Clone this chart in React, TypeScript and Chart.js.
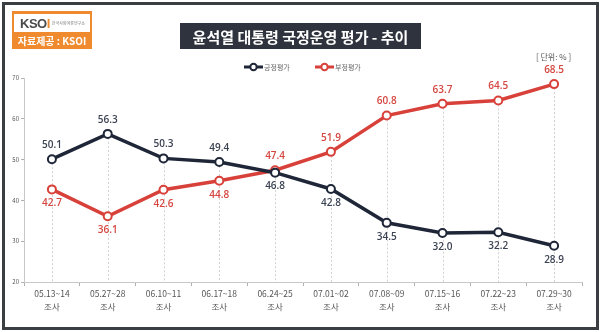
import React, { useEffect, useRef } from "react";
import { Chart, registerables } from "chart.js";

Chart.register(...registerables);

const categories = ["05.13~14", "05.27~28", "06.10~11", "06.17~18", "06.24~25", "07.01~02", "07.08~09", "07.15~16", "07.22~23", "07.29~30"];
const subLabel = "조사";
const positive = [50.1, 56.3, 50.3, 49.4, 46.8, 42.8, 34.5, 32.0, 32.2, 28.9];
const negative = [42.7, 36.1, 42.6, 44.8, 47.4, 51.9, 60.8, 63.7, 64.5, 68.5];
const yTicks = [20, 30, 40, 50, 60, 70];
const seriesNames = ["긍정평가", "부정평가"];
const title = "윤석열 대통령 국정운영 평가 - 추이";
const unitText = "[ 단위: % ]";
const sourceText = "자료제공 : KSOI";
const orgText = "한국사회여론연구소";

const NAVY = "#1e2638";
const RED = "#d8403a";
const NAVY_LABEL = "#3b4252";
const RED_LABEL = "#d4463f";
const FONT = "'Noto Sans CJK KR', 'Noto Sans', sans-serif";

const dropLines = {
  id: "dropLines",
  beforeDatasetsDraw(chart: any) {
    const { ctx, chartArea } = chart;
    const m0 = chart.getDatasetMeta(0);
    const m1 = chart.getDatasetMeta(1);
    ctx.save();
    ctx.strokeStyle = "#d0d0d0";
    ctx.lineWidth = 1;
    ctx.setLineDash([2, 2]);
    m0.data.forEach((p: any, i: number) => {
      const q = m1.data[i];
      const top = Math.min(p.y, q.y);
      ctx.beginPath();
      ctx.moveTo(Math.round(p.x) + 0.5, top);
      ctx.lineTo(Math.round(p.x) + 0.5, chartArea.bottom);
      ctx.stroke();
    });
    ctx.restore();
  },
};

const valueLabels = {
  id: "valueLabels",
  afterDatasetsDraw(chart: any) {
    const { ctx } = chart;
    const sets = chart.data.datasets;
    ctx.save();
    ctx.font = `600 10px 'Open Sans', ${FONT}`;
    ctx.textAlign = "center";
    ctx.textBaseline = "middle";
    sets.forEach((ds: any, di: number) => {
      const other = sets[1 - di].data;
      const meta = chart.getDatasetMeta(di);
      ctx.fillStyle = di === 0 ? NAVY_LABEL : RED_LABEL;
      meta.data.forEach((p: any, i: number) => {
        const v = ds.data[i];
        const above = v > other[i];
        const y = above ? p.y - 14 : p.y + 14;
        ctx.fillText(v.toFixed(1), p.x, y);
      });
    });
    ctx.restore();
  },
};

function LegendItem({ color, label, left }: { color: string; label: string; left: number }) {
  return (
    <div style={{ position: "absolute", left, top: 61, height: 12, display: "flex", alignItems: "center" }}>
      <svg width={19} height={10} style={{ display: "block" }}>
        <line x1={0} y1={5} x2={19} y2={5} stroke={color} strokeWidth={3} />
        <circle cx={9.5} cy={5} r={3.2} fill="#fff" stroke={color} strokeWidth={2} />
      </svg>
      <span style={{ fontFamily: FONT, fontSize: 7, color: "#666", marginLeft: 1 }}>{label}</span>
    </div>
  );
}

export default function App() {
  const canvasRef = useRef<HTMLCanvasElement | null>(null);

  useEffect(() => {
    const canvas = canvasRef.current;
    if (!canvas) return;
    const chart = new Chart(canvas, {
      type: "line",
      data: {
        labels: categories.map((c) => [c, subLabel]),
        datasets: [
          {
            label: seriesNames[0],
            data: positive,
            borderColor: NAVY,
            backgroundColor: "#ffffff",
            borderWidth: 3.5,
            pointRadius: 4,
            pointBorderWidth: 2,
            pointBackgroundColor: "#ffffff",
            pointBorderColor: NAVY,
            tension: 0,
          },
          {
            label: seriesNames[1],
            data: negative,
            borderColor: RED,
            backgroundColor: "#ffffff",
            borderWidth: 3.5,
            pointRadius: 4,
            pointBorderWidth: 2,
            pointBackgroundColor: "#ffffff",
            pointBorderColor: RED,
            tension: 0,
          },
        ],
      },
      options: {
        animation: false,
        responsive: false,
        maintainAspectRatio: false,
        layout: { padding: { left: 0, right: 18, top: 78, bottom: 0 } },
        plugins: {
          legend: { display: false },
          tooltip: { enabled: false },
          title: { display: false },
        },
        scales: {
          x: {
            type: "category",
            offset: true,
            grid: {
              offset: true,
              drawOnChartArea: false,
              drawTicks: true,
              tickLength: 4,
              color: "#b0b0b0",
            },
            border: { color: "#c8c8c8", width: 1 },
            ticks: {
              color: "#555",
              font: { family: FONT, size: 8.5, lineHeight: 1.45 },
              padding: 2,
              maxRotation: 0,
              autoSkip: false,
            },
            afterFit(scale: any) {
              scale.height = 50;
            },
          },
          y: {
            min: 20,
            max: 70,
            afterBuildTicks(scale: any) {
              scale.ticks = yTicks.map((v) => ({ value: v }));
            },
            grid: {
              drawOnChartArea: false,
              drawTicks: true,
              tickLength: 3,
              color: "#b0b0b0",
            },
            border: { color: "#c8c8c8", width: 1 },
            ticks: {
              color: "#555",
              font: { family: FONT, size: 6 },
              padding: 2,
            },
            afterFit(scale: any) {
              scale.width = 24;
            },
          },
        },
      },
      plugins: [dropLines, valueLabels],
    } as any);
    return () => chart.destroy();
  }, []);

  return (
    <div style={{ position: "absolute", left: 0, top: 0, width: 600, height: 332, background: "#fff", overflow: "hidden" }}>
      <canvas ref={canvasRef} width={600} height={332} style={{ position: "absolute", left: 0, top: 0, width: 600, height: 332 }} />
      <div style={{ position: "absolute", left: 2, top: 2, width: 591, height: 322, border: "3px solid #3a3d42", pointerEvents: "none" }} />
      <div style={{ position: "absolute", left: 12, top: 11, width: 80, height: 38, background: "#ef8b2e" }}>
        <div style={{ position: "absolute", left: 2, top: 3, width: 76, height: 18, background: "#fff", display: "flex", alignItems: "center" }}>
          <span style={{ fontFamily: "'Liberation Sans', sans-serif", fontWeight: 700, fontSize: 13, color: "#4a4a4a", marginLeft: 6, letterSpacing: -0.5 }}>
            K<span style={{ color: "#4a4a4a" }}>SO</span><span style={{ color: "#ef8b2e" }}>I</span>
          </span>
          <span style={{ fontFamily: FONT, fontSize: 4, color: "#777", marginLeft: 2, whiteSpace: "nowrap" }}>{orgText}</span>
        </div>
        <div style={{ position: "absolute", left: 0, top: 23, width: 80, textAlign: "center", fontFamily: FONT, fontWeight: 700, fontSize: 10, color: "#fff", lineHeight: "14px", whiteSpace: "nowrap" }}>
          {sourceText}
        </div>
      </div>
      <div style={{ position: "absolute", left: 180, top: 23, width: 241, height: 26, background: "#2e333d", display: "flex", alignItems: "center", justifyContent: "center" }}>
        <span style={{ fontFamily: FONT, fontWeight: 700, fontSize: 15, color: "#fff", whiteSpace: "nowrap" }}>{title}</span>
      </div>
      <LegendItem color={NAVY} label={seriesNames[0]} left={244} />
      <LegendItem color={RED} label={seriesNames[1]} left={315} />
      <div style={{ position: "absolute", left: 536, top: 51, fontFamily: FONT, fontSize: 8, color: "#555", whiteSpace: "nowrap" }}>{unitText}</div>
    </div>
  );
}
